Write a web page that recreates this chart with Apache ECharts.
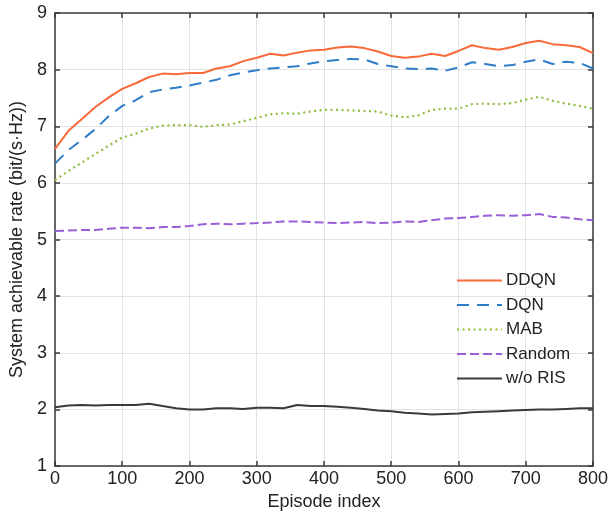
<!DOCTYPE html>
<html>
<head>
<meta charset="utf-8">
<script src="https://cdn.jsdelivr.net/npm/echarts@6/dist/echarts.min.js"></script>
<style>html,body{margin:0;padding:0;background:#fff;}#c{width:611px;height:516px;}</style>
</head>
<body>
<div id="c"></div>
<script>
const episodes = [0,20,40,60,80,100,120,140,160,180,200,220,240,260,280,300,320,340,360,380,400,420,440,460,480,500,520,540,560,580,600,620,640,660,680,700,720,740,760,780,800];
const ddqn = [6.60,6.92,7.13,7.34,7.51,7.66,7.76,7.87,7.93,7.92,7.94,7.94,8.02,8.06,8.15,8.21,8.28,8.25,8.30,8.34,8.35,8.39,8.41,8.38,8.32,8.24,8.21,8.23,8.28,8.24,8.33,8.43,8.38,8.35,8.40,8.47,8.51,8.45,8.43,8.40,8.29];
const dqn = [6.34,6.58,6.76,6.95,7.18,7.36,7.46,7.60,7.65,7.68,7.72,7.77,7.82,7.90,7.95,7.99,8.02,8.04,8.06,8.11,8.15,8.17,8.19,8.18,8.10,8.06,8.02,8.01,8.02,7.98,8.04,8.13,8.10,8.06,8.08,8.14,8.18,8.10,8.14,8.12,8.02];
const mab = [6.05,6.21,6.36,6.51,6.66,6.80,6.87,6.96,7.01,7.02,7.02,6.99,7.02,7.03,7.09,7.15,7.21,7.23,7.22,7.26,7.29,7.29,7.28,7.27,7.26,7.19,7.16,7.19,7.29,7.31,7.31,7.39,7.40,7.39,7.41,7.47,7.52,7.45,7.40,7.36,7.31];
const randomS = [5.15,5.16,5.17,5.17,5.19,5.21,5.21,5.20,5.22,5.22,5.24,5.27,5.28,5.27,5.28,5.29,5.30,5.32,5.32,5.31,5.30,5.29,5.30,5.31,5.29,5.30,5.32,5.31,5.34,5.37,5.38,5.40,5.42,5.43,5.42,5.43,5.45,5.40,5.39,5.36,5.34];
const woRIS = [2.04,2.07,2.08,2.07,2.08,2.08,2.08,2.10,2.06,2.02,2.00,2.00,2.02,2.02,2.01,2.03,2.03,2.02,2.08,2.06,2.06,2.05,2.03,2.01,1.98,1.97,1.94,1.93,1.91,1.92,1.93,1.95,1.96,1.97,1.98,1.99,2.00,2.00,2.01,2.02,2.02];
const seriesNames = ['DDQN','DQN','MAB','Random','w/o RIS'];

const pair = arr => episodes.map((e,i)=>[e,arr[i]]);
const font = 'Liberation Sans, Arial, sans-serif';
const axColor = '#3a3a3a';
const chart = echarts.init(document.getElementById('c'), null, {renderer:'canvas'});
const styles = [
  {color:'#F96A3A', type:'solid', width:2},
  {color:'#2F7DC9', type:[12,8], width:2},
  {color:'#8CBD3F', type:[2,3.5], width:2.2},
  {color:'#9A5FD6', type:[9,4], width:2},
  {color:'#3a3a3a', type:'solid', width:2}
];
const datas = [ddqn,dqn,mab,randomS,woRIS];
chart.setOption({
  animation:false,
  backgroundColor:'#fff',
  grid:{left:55,right:16,top:13,bottom:48,containLabel:false},
  legend:{
    orient:'vertical', left:451, top:267, itemWidth:45, itemHeight:14, itemGap:7.5,
    itemStyle:{opacity:0},
    textStyle:{fontFamily:font,fontSize:17,color:'#222',padding:[0,0,0,-1]},
    data:seriesNames
  },
  xAxis:[{
    type:'value', min:0, max:800, interval:100,
    name:'Episode index', nameLocation:'middle', nameGap:23,
    nameTextStyle:{fontFamily:font,fontSize:18,color:'#222'},
    axisLine:{show:true,onZero:false,lineStyle:{color:axColor,width:1.5}},
    axisTick:{show:true,inside:true,length:5,lineStyle:{color:axColor,width:1.5}},
    axisLabel:{fontFamily:font,fontSize:18,color:'#222',margin:4},
    splitLine:{show:true,lineStyle:{color:'#e2e2e2',width:1}}
  },{
    type:'value', min:0, max:800, interval:100, position:'top',
    axisLine:{show:true,onZero:false,lineStyle:{color:axColor,width:1.5}},
    axisTick:{show:true,inside:true,length:5,lineStyle:{color:axColor,width:1.5}},
    axisLabel:{show:false}, splitLine:{show:false}
  }],
  yAxis:[{
    type:'value', min:1, max:9, interval:1,
    name:'System achievable rate (bit/(s·Hz))', nameLocation:'middle', nameGap:26,
    nameTextStyle:{fontFamily:font,fontSize:18,color:'#222'},
    axisLine:{show:true,onZero:false,lineStyle:{color:axColor,width:1.5}},
    axisTick:{show:true,inside:true,length:5,lineStyle:{color:axColor,width:1.5}},
    axisLabel:{fontFamily:font,fontSize:18,color:'#222',margin:8},
    splitLine:{show:true,lineStyle:{color:'#e2e2e2',width:1}}
  },{
    type:'value', min:1, max:9, interval:1, position:'right',
    axisLine:{show:true,onZero:false,lineStyle:{color:axColor,width:1.5}},
    axisTick:{show:true,inside:true,length:5,lineStyle:{color:axColor,width:1.5}},
    axisLabel:{show:false}, splitLine:{show:false}
  }],
  series: seriesNames.map((n,i)=>({
    name:n, type:'line', xAxisIndex:0, yAxisIndex:0,
    data:pair(datas[i]), showSymbol:false, symbol:'none', smooth:false,
    color:styles[i].color,
    itemStyle:{color:styles[i].color},
    lineStyle:{color:styles[i].color,type:styles[i].type,width:styles[i].width},
    z: 10-i
  }))
});
</script>
</body>
</html>
